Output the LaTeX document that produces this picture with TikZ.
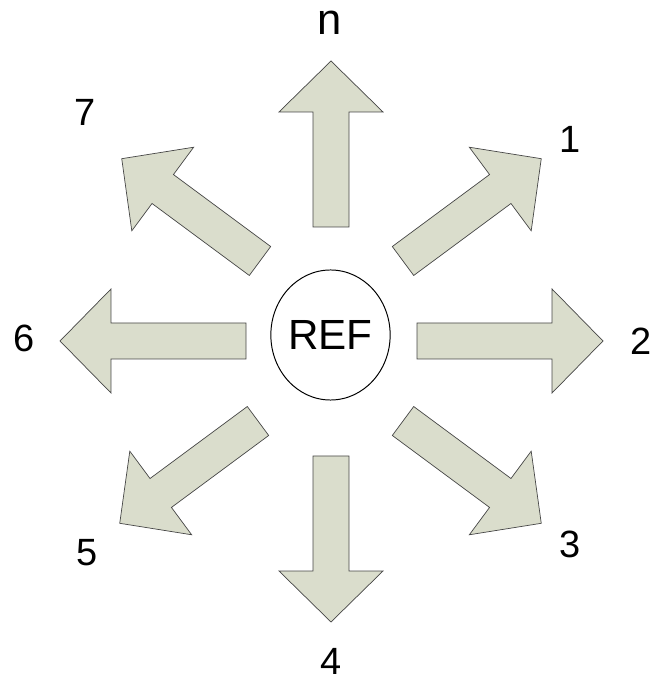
\documentclass[tikz,border=0pt]{standalone}
\usepackage{fontspec}
\setmainfont{Liberation Sans}
\usetikzlibrary{shapes.geometric}
\definecolor{arrowfill}{RGB}{218,221,204}
\definecolor{arrowline}{RGB}{70,70,70}
\begin{document}
\begin{tikzpicture}[x=0.025cm, y=0.025cm,
	arrowbox/.style={fill=arrowfill, draw=arrowline, line width=0.5pt, line join=miter},
	lbl/.style={font=\fontsize{27}{27}\selectfont, inner sep=0pt}]
		\useasboundingbox (-331,-340) rectangle (322,341);
		\node[ellipse, draw, line width=0.7pt, minimum width=2.975cm, minimum height=3.25cm, inner sep=0pt, font=\fontsize{30}{30}\selectfont] (ref) at (-0.5,6) {REF};
			% vertical and horizontal arrows
			\draw[arrowbox, shift={(0,114)}, rotate=90] (0,18) -- (115,18) -- (115,52) -- (166,0) -- (115,-52) -- (115,-18) -- (0,-18) -- cycle;
			\draw[arrowbox, shift={(0,-115)}, rotate=-90] (0,18) -- (115,18) -- (115,52) -- (166,0) -- (115,-52) -- (115,-18) -- (0,-18) -- cycle;
			\draw[arrowbox, shift={(86,0)}, rotate=0] (0,18) -- (135,18) -- (135,52) -- (186,0) -- (135,-52) -- (135,-18) -- (0,-18) -- cycle;
			\draw[arrowbox, shift={(-85,0)}, rotate=180] (0,18) -- (135,18) -- (135,52) -- (186,0) -- (135,-52) -- (135,-18) -- (0,-18) -- cycle;
			% diagonal arrows
			\draw[arrowbox, shift={(72,80)}, rotate=36.5] (0,18) -- (121,18) -- (121,52) -- (172,0) -- (121,-52) -- (121,-18) -- (0,-18) -- cycle;
			\draw[arrowbox, shift={(72,-80)}, rotate=-36.5] (0,18) -- (121,18) -- (121,52) -- (172,0) -- (121,-52) -- (121,-18) -- (0,-18) -- cycle;
			\draw[arrowbox, shift={(-71,80)}, rotate=143.5] (0,18) -- (121,18) -- (121,52) -- (172,0) -- (121,-52) -- (121,-18) -- (0,-18) -- cycle;
			\draw[arrowbox, shift={(-73,-80)}, rotate=216.5] (0,18) -- (121,18) -- (121,52) -- (172,0) -- (121,-52) -- (121,-18) -- (0,-18) -- cycle;
			% labels
			\node[lbl, font=\fontsize{31}{31}\selectfont] (ln) at (-1,318) {n};
			\node[lbl] (l1) at (239,202) {1};
			\node[lbl] (l2) at (310,0) {2};
			\node[lbl] (l3) at (239,-203) {3};
			\node[lbl] (l4) at (0,-320) {4};
			\node[lbl] (l5) at (-244,-212) {5};
			\node[lbl] (l6) at (-307,3) {6};
			\node[lbl] (l7) at (-246,229) {7};
		\end{tikzpicture}
\end{document}
